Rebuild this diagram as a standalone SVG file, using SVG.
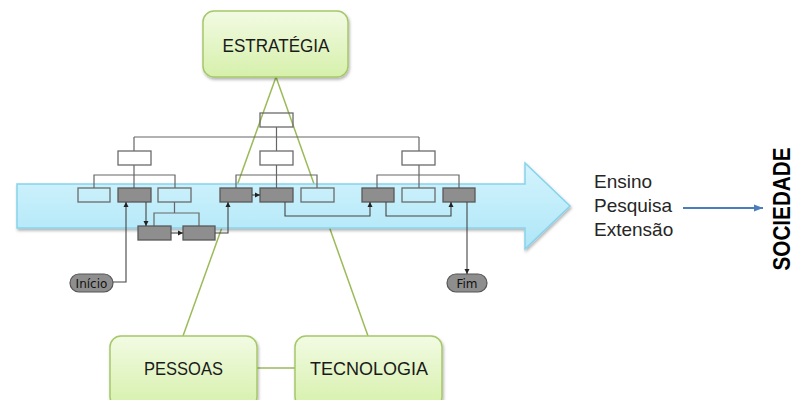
<svg xmlns="http://www.w3.org/2000/svg" width="796" height="400" viewBox="0 0 796 400">
<defs>
<linearGradient id="gGreen" x1="0" y1="0" x2="0" y2="1">
<stop offset="0" stop-color="#f2fbe3"/>
<stop offset="1" stop-color="#d6f0ab"/>
</linearGradient>
<linearGradient id="gBlue" x1="0" y1="0" x2="0" y2="1">
<stop offset="0" stop-color="#d4f4fd"/>
<stop offset="1" stop-color="#aee6f7"/>
</linearGradient>
<filter id="sh" x="-10%" y="-10%" width="130%" height="140%">
<feDropShadow dx="1" dy="2" stdDeviation="1.5" flood-color="#000" flood-opacity="0.3"/>
</filter>
<marker id="ah" markerWidth="6" markerHeight="6" refX="5" refY="3" orient="auto" markerUnits="userSpaceOnUse">
<path d="M0,0.5 L5,3 L0,5.5 Z" fill="#222"/>
</marker>
<marker id="ahb" markerWidth="10" markerHeight="8" refX="9" refY="4" orient="auto" markerUnits="userSpaceOnUse">
<path d="M0,0.5 L9,4 L0,7.5 Z" fill="#4a7ebb"/>
</marker>
<style>
.gbox{fill:url(#gGreen);stroke:#a6c86a;stroke-width:1.5;filter:url(#sh)}
.gl{stroke:#9bbb59;stroke-width:1.5;fill:none}
.lbl{font-family:"Liberation Sans",Arial,sans-serif;font-size:19px;fill:#1a1a1a;text-anchor:middle}
.wb{fill:none;stroke:#6b6b6b;stroke-width:1.3}
.db{fill:#8e8e8e;stroke:#5a5a5a;stroke-width:1.3}
.ln{fill:none;stroke:#666;stroke-width:1.2}
.cn{fill:none;stroke:#444;stroke-width:1.1}
.pill{fill:#8e8e8e;stroke:#555;stroke-width:1.2}
.pt{font-family:"DejaVu Sans",sans-serif;font-size:12px;fill:#111;text-anchor:middle}
.side{font-family:"Liberation Sans",Arial,sans-serif;font-size:19px;fill:#262626}
</style>
</defs>
<rect width="796" height="400" fill="#ffffff"/>

<g id="green-links">
<path class="gl" d="M276,77 L183,336"/>
<path class="gl" d="M276,77 L368,336"/>
<path class="gl" d="M257,368 L295,368"/>
</g>

<g id="process-arrow">
<path d="M17,184 L525,184 L525,163 L570,206 L525,249 L525,228 L17,228 Z" fill="url(#gBlue)" stroke="#86d3ec" stroke-width="1.5" filter="url(#sh)"/>
</g>

<g id="estrategia">
<rect class="gbox" x="203" y="11" width="145" height="66" rx="11"/>
<text class="lbl" x="276" y="52" textLength="107" lengthAdjust="spacingAndGlyphs">ESTRATÉGIA</text>
</g>
<g id="pessoas">
<rect class="gbox" x="110" y="336" width="147" height="72" rx="11"/>
<text class="lbl" x="183.5" y="375" textLength="79" lengthAdjust="spacingAndGlyphs">PESSOAS</text>
</g>
<g id="tecnologia">
<rect class="gbox" x="295" y="336" width="147" height="72" rx="11"/>
<text class="lbl" x="369" y="375" textLength="118" lengthAdjust="spacingAndGlyphs">TECNOLOGIA</text>
</g>

<g id="org-lines">
<path class="ln" d="M276.5,127 V137 M134,137 H419 M134,137 V151 M276.5,137 V151 M419,137 V151"/>
<path class="ln" d="M134,165 V188 M94,188 V175 H175 V188"/>
<path class="ln" d="M276.5,165 V188 M236,188 V175 H317 V188"/>
<path class="ln" d="M419,165 V188 M377,188 V175 H459 V188"/>
<path class="ln" d="M174.5,202 V213 M154,226 V213 H199 V226"/>
</g>

<g id="org-boxes">
<rect class="wb" x="260" y="113" width="33" height="14"/>
<rect class="wb" x="118" y="151" width="33" height="14"/>
<rect class="wb" x="260" y="151" width="33" height="14"/>
<rect class="wb" x="402" y="151" width="33" height="14"/>
<rect class="wb" x="78" y="188" width="32" height="14"/>
<rect class="db" x="118" y="188" width="33" height="14"/>
<rect class="wb" x="158" y="188" width="33" height="14"/>
<rect class="db" x="220" y="188" width="32" height="14"/>
<rect class="db" x="260" y="188" width="33" height="14"/>
<rect class="wb" x="301" y="188" width="33" height="14"/>
<rect class="db" x="362" y="188" width="32" height="14"/>
<rect class="wb" x="402" y="188" width="33" height="14"/>
<rect class="db" x="443" y="188" width="32" height="14"/>
<rect class="db" x="138" y="226" width="33" height="14"/>
<rect class="db" x="183" y="226" width="32" height="14"/>
</g>

<g id="inicio">
<rect class="pill" x="70" y="274" width="43" height="18" rx="9"/>
<text class="pt" x="91.5" y="287.5">Início</text>
</g>
<g id="fim">
<rect class="pill" x="447" y="274" width="40" height="18" rx="9"/>
<text class="pt" x="467" y="287.5">Fim</text>
</g>

<g id="connectors">
<path class="cn" d="M113,282 H126 V202" marker-end="url(#ah)"/>
<path class="cn" d="M146,202 V226" marker-end="url(#ah)"/>
<path class="cn" d="M171,233 H183" marker-end="url(#ah)"/>
<path class="cn" d="M215,233 H228 V202" marker-end="url(#ah)"/>
<path class="cn" d="M252,195 H260" marker-end="url(#ah)"/>
<path class="cn" d="M285,202 V216 H370 V202" marker-end="url(#ah)"/>
<path class="cn" d="M386,202 V216 H451 V202" marker-end="url(#ah)"/>
<path class="cn" d="M467,202 V274" marker-end="url(#ah)"/>
<path d="M683,208 H763" fill="none" stroke="#4a7ebb" stroke-width="2" marker-end="url(#ahb)"/>
</g>

<g id="missions">
<text class="side" x="594" y="188">Ensino</text>
<text class="side" x="594" y="212">Pesquisa</text>
<text class="side" x="594" y="236">Extensão</text>
</g>
<g id="sociedade">
<text transform="translate(790,209) rotate(-90)" text-anchor="middle" font-family="'Liberation Sans',Arial,sans-serif" font-weight="bold" font-size="24" fill="#000" textLength="123" lengthAdjust="spacingAndGlyphs">SOCIEDADE</text>
</g>
</svg>
